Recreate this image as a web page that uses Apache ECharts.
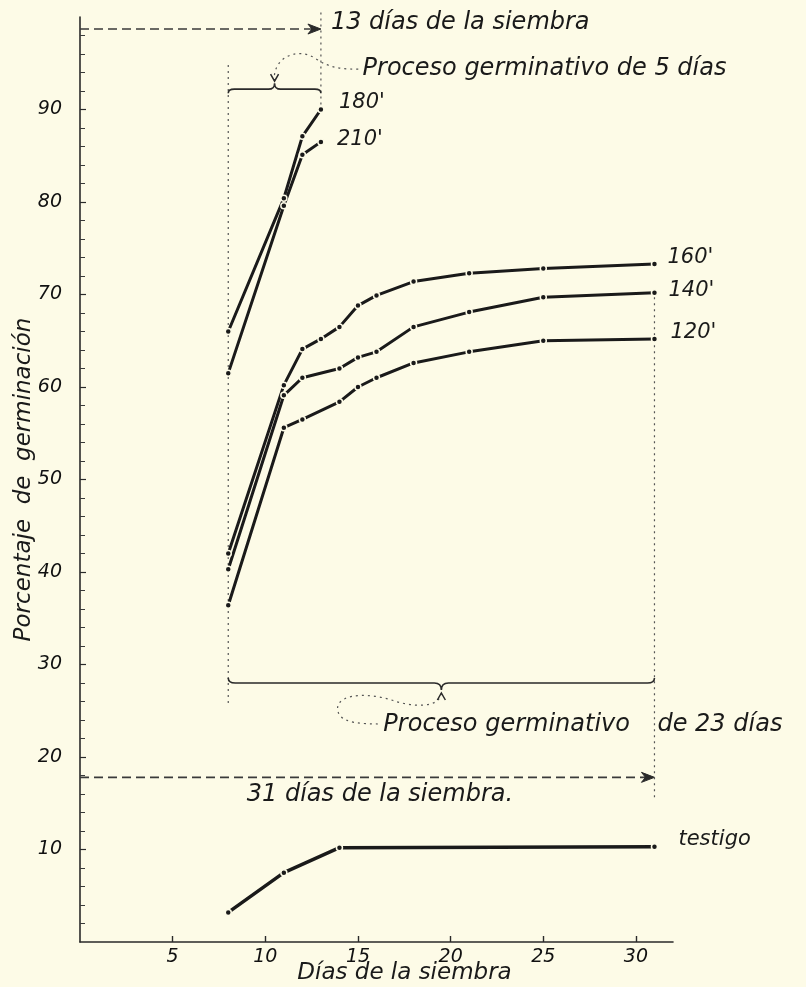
<!DOCTYPE html>
<html><head><meta charset="utf-8">
<script src="https://cdn.jsdelivr.net/npm/echarts@6/dist/echarts.min.js"></script>
<style>html,body{margin:0;padding:0;background:#fdfbe7;} #c{width:806px;height:987px;}</style>
</head><body><div id="c"></div>
<script>
// ---- data ----
const daysEarly = [8, 11, 12, 13];
const pct180 = [66.0, 80.4, 87.1, 90.0];
const pct210 = [61.5, 79.6, 85.1, 86.5];
const days160 = [8, 11, 12, 13, 14, 15, 16, 18, 21, 25, 31];
const pct160 = [42.0, 60.2, 64.1, 65.2, 66.5, 68.8, 69.9, 71.4, 72.3, 72.8, 73.3];
const daysLate = [8, 11, 12, 14, 15, 16, 18, 21, 25, 31];
const pct140 = [40.3, 59.1, 61.0, 62.0, 63.2, 63.8, 66.5, 68.1, 69.7, 70.2];
const pct120 = [36.4, 55.6, 56.5, 58.4, 60.0, 61.0, 62.6, 63.8, 65.0, 65.2];
const daysTestigo = [8, 11, 14, 31];
const pctTestigo = [3.2, 7.5, 10.2, 10.3];
const xTicks = [5, 10, 15, 20, 25, 30];
const yTicks = [10, 20, 30, 40, 50, 60, 70, 80, 90];
const seriesNames = ["180'", "210'", "160'", "140'", "120'", "testigo"];
// annotation anchors (days / percent)
const shortStart = 8, shortEnd = 13, longEnd = 31;

const BG = '#fdfbe7';
const INK = '#1a1a1a';
const FONT = '"DejaVu Sans", sans-serif';

function pairs(d, v) { return d.map((x, i) => [x, v[i]]); }
function mk(name, d, v, off, width) {
  return {
    type: 'line', name: name, data: pairs(d, v),
    symbol: 'circle', symbolSize: 6, showSymbol: true, animation: false, z: 3,
    lineStyle: { color: INK, width: width || 3 },
    itemStyle: { color: INK, borderColor: BG, borderWidth: 1.5 },
    emphasis: { disabled: true },
    endLabel: { show: true, formatter: name, color: '#1a1a1a', fontStyle: 'italic',
      fontFamily: FONT, fontSize: 21, offset: off }
  };
}

const annot = {
  type: 'custom', z: 2, clip: false, silent: true, animation: false,
  data: [[0, 0]],
  renderItem: function (params, api) {
    const c = (x, y) => api.coord([x, y]);
    const ch = [];
    const dash = { stroke: '#3a3a3a', lineWidth: 1.6, lineDash: [9, 5], fill: null };
    const dot = { stroke: '#555', lineWidth: 1.2, lineDash: [2, 4], fill: null };
    const txt = (x, y, t, size) => ({ type: 'text', x: x, y: y,
      style: { text: t, fill: '#1a1a1a', font: 'italic ' + (size || 24) + 'px ' + FONT,
               align: 'left', verticalAlign: 'middle', textAlign: 'left', textVerticalAlign: 'middle' } });
    function arrowRight(p) {
      return { type: 'polygon', shape: { points: [[p[0], p[1]], [p[0] - 13, p[1] - 5], [p[0] - 9, p[1]], [p[0] - 13, p[1] + 5]] },
        style: { fill: '#2a2a2a', stroke: '#2a2a2a', lineWidth: 1 } };
    }
    // top dashed arrow (13 días)
    const a0 = c(0, 98.7), a1 = c(shortEnd, 98.7);
    ch.push({ type: 'line', shape: { x1: a0[0], y1: a0[1], x2: a1[0] - 8, y2: a1[1] }, style: dash });
    ch.push(arrowRight(a1));
    ch.push(txt(a1[0] + 10, c(0, 99.4)[1], '13 días de la siembra'));
    // bottom dashed arrow (31 días)
    const b0 = c(0, 17.8), b1 = c(longEnd, 17.8);
    ch.push({ type: 'line', shape: { x1: b0[0], y1: b0[1], x2: b1[0] - 8, y2: b1[1] }, style: dash });
    ch.push(arrowRight(b1));
    ch.push(txt(c(9.0, 0)[0], c(0, 15.9)[1], '31 días de la siembra.'));
    // dotted verticals
    const v1 = c(shortStart, 94.8), v2 = c(shortStart, 25.5);
    ch.push({ type: 'line', shape: { x1: v1[0], y1: v1[1], x2: v2[0], y2: v2[1] }, style: dot });
    const v3 = c(shortEnd, 100.5), v4 = c(shortEnd, 90.2);
    ch.push({ type: 'line', shape: { x1: v3[0], y1: v3[1], x2: v4[0], y2: v4[1] }, style: dot });
    const v5 = c(longEnd, 69.7), v6 = c(longEnd, 15.6);
    ch.push({ type: 'line', shape: { x1: v5[0], y1: v5[1], x2: v6[0], y2: v6[1] }, style: dot });
    // top brace (tip up)
    const t0 = c(shortStart, 92.2), t1 = c(shortEnd, 92.2), tm = c((shortStart + shortEnd) / 2, 92.2);
    const y = t0[1];
    ch.push({ type: 'path', shape: { pathData:
      'M' + t0[0] + ' ' + (y + 4) + ' Q' + t0[0] + ' ' + y + ' ' + (t0[0] + 6) + ' ' + y +
      ' L' + (tm[0] - 6) + ' ' + y + ' Q' + tm[0] + ' ' + y + ' ' + tm[0] + ' ' + (y - 6) +
      ' Q' + tm[0] + ' ' + y + ' ' + (tm[0] + 6) + ' ' + y +
      ' L' + (t1[0] - 6) + ' ' + y + ' Q' + t1[0] + ' ' + y + ' ' + t1[0] + ' ' + (y + 4) },
      style: { stroke: '#2a2a2a', lineWidth: 1.6, fill: null } });
    // top loop with arrow pointing down to brace tip
    const tx = tm[0], ty = y - 8;
    ch.push({ type: 'path', shape: { pathData:
      'M' + tx + ' ' + ty + ' C' + (tx - 3) + ' ' + (ty - 22) + ' ' + (tx + 22) + ' ' + (ty - 36) + ' ' + (tx + 42) + ' ' + (ty - 22) +
      ' C' + (tx + 55) + ' ' + (ty - 13) + ' ' + (tx + 68) + ' ' + (ty - 12) + ' ' + (tx + 84) + ' ' + (ty - 12) },
      style: dot });
    ch.push({ type: 'polyline', shape: { points: [[tx - 4, ty - 7], [tx, ty], [tx + 4, ty - 7]] },
      style: { stroke: '#2a2a2a', lineWidth: 1.5, fill: null } });
    ch.push(txt(tx + 88, ty - 12, 'Proceso germinativo de 5 días'));
    // bottom brace (tip down)
    const u0 = c(shortStart, 28.0), u1 = c(longEnd, 28.0), um = c((shortStart + longEnd) / 2, 28.0);
    const yb = u0[1];
    ch.push({ type: 'path', shape: { pathData:
      'M' + u0[0] + ' ' + (yb - 5) + ' Q' + u0[0] + ' ' + yb + ' ' + (u0[0] + 7) + ' ' + yb +
      ' L' + (um[0] - 7) + ' ' + yb + ' Q' + um[0] + ' ' + yb + ' ' + um[0] + ' ' + (yb + 7) +
      ' Q' + um[0] + ' ' + yb + ' ' + (um[0] + 7) + ' ' + yb +
      ' L' + (u1[0] - 7) + ' ' + yb + ' Q' + u1[0] + ' ' + yb + ' ' + u1[0] + ' ' + (yb - 5) },
      style: { stroke: '#2a2a2a', lineWidth: 1.6, fill: null } });
    // bottom loop with arrow pointing up
    const bx = um[0], by = yb + 10;
    ch.push({ type: 'path', shape: { pathData:
      'M' + bx + ' ' + by + ' C' + (bx - 2) + ' ' + (by + 16) + ' ' + (bx - 30) + ' ' + (by + 14) + ' ' + (bx - 50) + ' ' + (by + 7) +
      ' C' + (bx - 78) + ' ' + (by - 2) + ' ' + (bx - 112) + ' ' + (by + 2) + ' ' + (bx - 102) + ' ' + (by + 22) +
      ' C' + (bx - 96) + ' ' + (by + 30) + ' ' + (bx - 80) + ' ' + (by + 31) + ' ' + (bx - 60) + ' ' + (by + 31) },
      style: dot });
    ch.push({ type: 'polyline', shape: { points: [[bx - 4, by + 7], [bx, by], [bx + 4, by + 7]] },
      style: { stroke: '#2a2a2a', lineWidth: 1.5, fill: null } });
    ch.push(txt(bx - 58, by + 32, 'Proceso germinativo'));
    ch.push(txt(u1[0] + 3, by + 32, 'de 23 días'));
    return { type: 'group', children: ch };
  }
};

const chart = echarts.init(document.getElementById('c'), null, { renderer: 'canvas' });
chart.setOption({
  backgroundColor: BG,
  animation: false,
  grid: { left: 80, right: 133, top: 17, bottom: 45, containLabel: false, outerBoundsMode: 'none' },
  xAxis: {
    type: 'value', min: 0, max: 32, interval: 5,
    name: 'Días de la siembra', nameLocation: 'middle', nameGap: 20, nameMoveOverlap: false,
    nameTextStyle: { fontStyle: 'italic', fontFamily: FONT, fontSize: 23, color: '#1a1a1a', padding: [0, 0, 0, 56] },
    axisLine: { lineStyle: { color: '#2a2a2a', width: 1.6 } },
    axisTick: { show: true, inside: true, length: 6, customValues: xTicks, lineStyle: { color: '#2a2a2a', width: 1.4 } },
    axisLabel: { customValues: xTicks, fontStyle: 'italic', fontFamily: FONT, fontSize: 19, color: '#111', margin: 6 },
    splitLine: { show: false }
  },
  yAxis: {
    type: 'value', min: 0, max: 100, interval: 10,
    name: 'Porcentaje  de  germinación', nameLocation: 'middle', nameGap: 44, nameRotate: 90, nameMoveOverlap: false,
    nameTextStyle: { fontStyle: 'italic', fontFamily: FONT, fontSize: 23, color: '#1a1a1a' },
    axisLine: { show: true, lineStyle: { color: '#2a2a2a', width: 1.6 } },
    axisTick: { show: true, inside: true, length: 6, customValues: yTicks, lineStyle: { color: '#2a2a2a', width: 1.2 } },
    minorTick: { show: true, splitNumber: 5, length: 5, lineStyle: { color: '#3a3a3a', width: 1 } },
    axisLabel: { customValues: yTicks, fontStyle: 'italic', fontFamily: FONT, fontSize: 19, color: '#111', margin: 18 },
    splitLine: { show: false }
  },
  series: [
    mk(seriesNames[0], daysEarly, pct180, [10, -7]),
    mk(seriesNames[1], daysEarly, pct210, [8, -2]),
    mk(seriesNames[2], days160, pct160, [5, -6]),
    mk(seriesNames[3], daysLate, pct140, [6, -2]),
    mk(seriesNames[4], daysLate, pct120, [8, -6]),
    mk(seriesNames[5], daysTestigo, pctTestigo, [16, -7], 3.5),
    annot
  ]
});
</script>
</body></html>
